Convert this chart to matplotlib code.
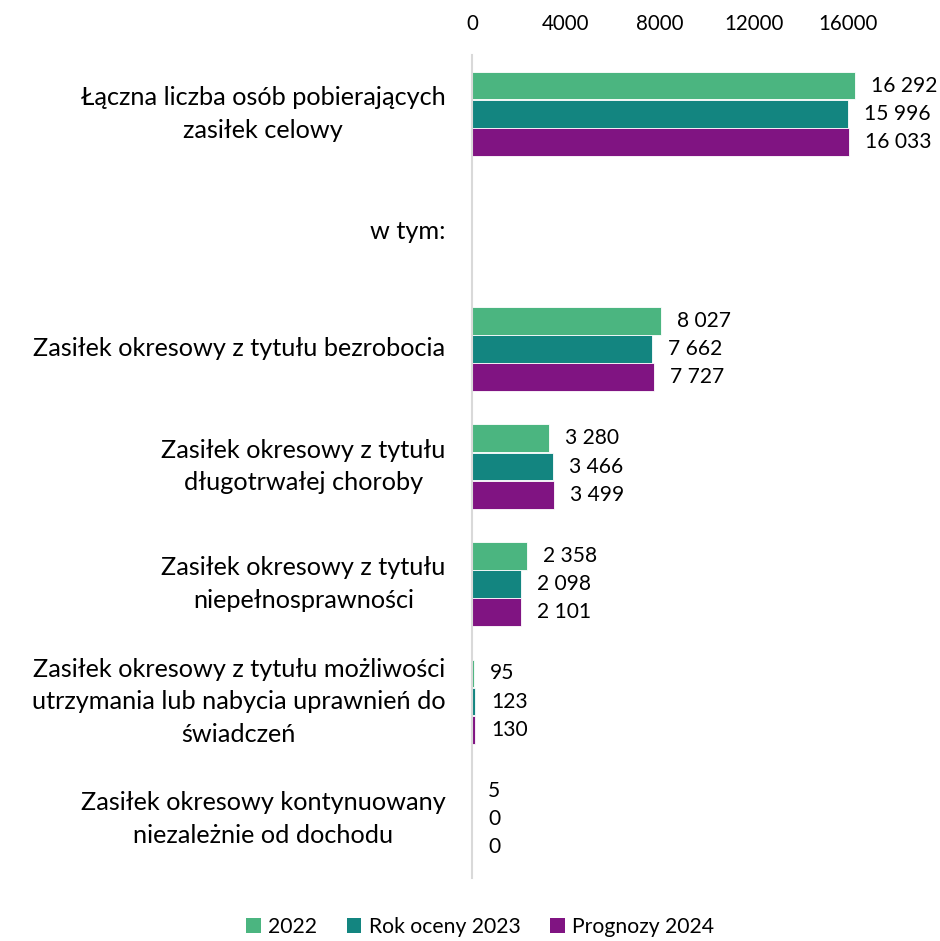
import matplotlib
matplotlib.use("Agg")
import matplotlib.pyplot as plt
from matplotlib.patches import Patch
import numpy as np

categories = [
    "Łączna liczba osób pobierających\nzasiłek celowy",
    "w tym:",
    "Zasiłek okresowy z tytułu bezrobocia",
    "Zasiłek okresowy z tytułu\ndługotrwałej choroby",
    "Zasiłek okresowy z tytułu\nniepełnosprawności",
    "Zasiłek okresowy z tytułu możliwości\nutrzymania lub nabycia uprawnień do\nświadczeń",
    "Zasiłek okresowy kontynuowany\nniezależnie od dochodu",
]
series_names = ["2022", "Rok oceny 2023", "Prognozy 2024"]
v2022 = [16292, None, 8027, 3280, 2358, 95, 5]
v2023 = [15996, None, 7662, 3466, 2098, 123, 0]
v2024 = [16033, None, 7727, 3499, 2101, 130, 0]
colors = ["#4BB580", "#138580", "#801482"]
xticks = [0, 4000, 8000, 12000, 16000]

plt.rcParams["font.family"] = ["Lato", "DejaVu Sans"]

fig = plt.figure(figsize=(9.4, 9.41), dpi=100)
ax = fig.add_axes([472/940, 1-878/941, (895-472)/940, (878-55)/941])

n = len(categories)
y = np.arange(n)
bh = 0.235
step = 0.24
for i, (vals, c) in enumerate(zip([v2022, v2023, v2024], colors)):
    for j, v in enumerate(vals):
        if v is None:
            continue
        yy = j + (i - 1) * step
        ax.barh(yy, v, height=bh, color=c, edgecolor="white", linewidth=0.6)
        ax.text(v + 680, yy, f"{v:,}".replace(",", " "), va="center", ha="left",
                fontsize=15.1, color="#000000")

ax.set_ylim(n - 0.5, -0.5)
ax.set_xlim(0, 18000)
ax.set_yticks(y)
ax.set_yticklabels(categories, fontsize=18.2, multialignment="center", linespacing=1.5,
                   va="center")
ax.tick_params(axis="y", length=0, pad=19)
ax.xaxis.tick_top()
ax.set_xticks(xticks)
ax.set_xticklabels([str(t) for t in xticks], fontsize=14.8)
ax.tick_params(axis="x", length=0, pad=15)
for s in ["top", "right", "bottom"]:
    ax.spines[s].set_visible(False)
ax.spines["left"].set_color("#D9D9D9")
ax.spines["left"].set_linewidth(1.5)

handles = [Patch(facecolor=c, label=l) for c, l in zip(colors, series_names)]
fig.legend(handles=handles, loc="center", bbox_to_anchor=(480/940, 1-927/941), ncol=3,
           frameon=False, fontsize=15.2, handlelength=0.7, handleheight=0.7,
           handletextpad=0.35, columnspacing=1.4)

fig.savefig("out.png", dpi=100)
